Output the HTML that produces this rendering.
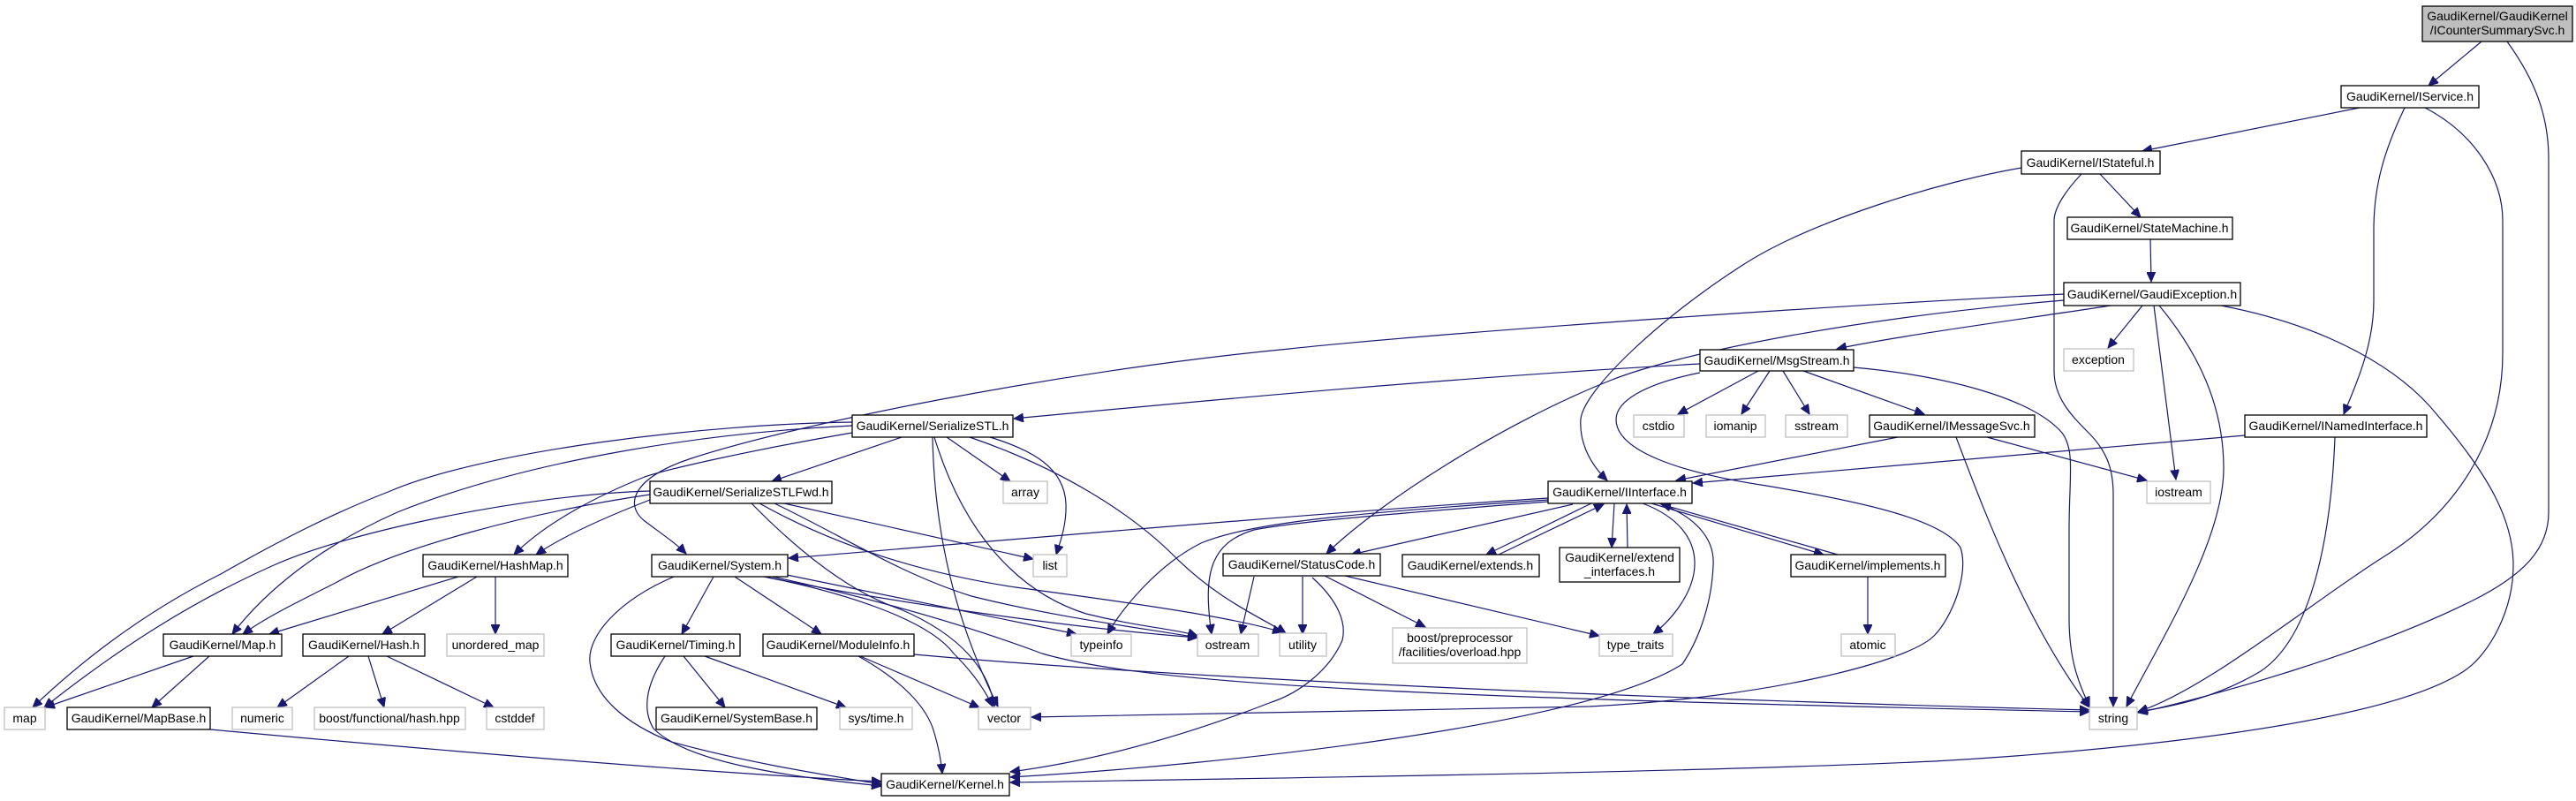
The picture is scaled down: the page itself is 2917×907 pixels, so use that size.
<!DOCTYPE html>
<html><head><meta charset="utf-8"><style>
html,body{margin:0;padding:0;background:#fff;}
svg{display:block;}
text{font-family:"Liberation Sans",sans-serif;font-size:14px;fill:#000;text-anchor:middle;}
.b{fill:#fff;stroke:#000;stroke-width:1.3;}
.g{fill:#fff;stroke:#bfbfbf;stroke-width:1.3;}
.r{fill:#bfbfbf;stroke:#000;stroke-width:1.3;}
path.e{fill:none;stroke:#191970;stroke-width:1.2;marker-end:url(#a);}
</style></head><body>
<svg width="2917" height="907" viewBox="0 0 2917 907" xmlns="http://www.w3.org/2000/svg">
<defs><marker id="a" markerUnits="userSpaceOnUse" markerWidth="12" markerHeight="10" refX="11" refY="5" orient="auto"><path d="M0,0 L11,5 L0,10 z" fill="#191970" stroke="#191970"/></marker></defs>

<path class="e" d="M2810,47 L2750,97"/>
<path class="e" d="M2839,47 C2870,90 2886,130 2886,180 L2886,580 C2886,620 2860,650 2800,680 C2680,740 2500,790 2421,807"/>
<path class="e" d="M2672,122 L2426,171"/>
<path class="e" d="M2723,122 C2700,170 2688,210 2688,260 L2688,340 C2688,390 2670,430 2654,469"/>
<path class="e" d="M2746,122 C2800,150 2834,200 2834,250 L2834,400 C2834,500 2780,580 2700,630 C2620,680 2500,780 2421,806"/>
<path class="e" d="M2378,197 L2424,246"/>
<path class="e" d="M2357,197 C2340,215 2326,235 2326,250 L2326,420 C2326,450 2345,470 2365,490 C2385,510 2393,530 2393,560 L2393,800"/>
<path class="e" d="M2289,190 C2200,205 2050,250 1972,301 C1880,360 1795,440 1790,474 C1788,500 1800,525 1820,544"/>
<path class="e" d="M2435,271 L2436,319"/>
<path class="e" d="M2426,346 L2387,394"/>
<path class="e" d="M2439,346 L2464,543"/>
<path class="e" d="M2445,346 C2490,400 2518,460 2518,530 C2518,610 2450,720 2408,800"/>
<path class="e" d="M2515,346 C2640,370 2720,420 2760,470 C2820,540 2846,590 2846,640 C2846,690 2820,740 2790,760 C2700,820 2400,850 2190,862 C1900,875 1500,880 1144,886"/>
<path class="e" d="M2390,346 C2300,360 2150,380 2080,395"/>
<path class="e" d="M2337,333 C2000,350 1600,380 1460,395 C1200,420 900,480 780,520 C720,540 705,570 730,590 C750,605 765,615 777,627"/>
<path class="e" d="M2337,340 C2100,360 1900,400 1823,431 C1700,480 1560,570 1502,627"/>
<path class="e" d="M1925,412 C1600,430 1300,460 1148,474"/>
<path class="e" d="M1991,420 L1900,469"/>
<path class="e" d="M2004,420 L1972,469"/>
<path class="e" d="M2019,420 L2049,469"/>
<path class="e" d="M2042,420 L2179,469"/>
<path class="e" d="M2099,416 C2200,425 2300,450 2335,490 C2350,510 2343,540 2343,600 L2343,700 C2343,750 2355,775 2366,800"/>
<path class="e" d="M1925,422 C1860,435 1830,455 1830,475 C1830,510 1900,535 2000,550 C2120,570 2200,590 2220,620 C2230,650 2210,700 2190,720 C2160,750 2000,790 1800,800 L1168,812"/>
<path class="e" d="M2149,495 L1898,544"/>
<path class="e" d="M2250,495 L2431,544"/>
<path class="e" d="M2215,495 C2240,560 2290,700 2366,801"/>
<path class="e" d="M2542,493 L1917,547"/>
<path class="e" d="M2644,495 C2640,600 2620,720 2560,760 C2510,790 2460,800 2421,806"/>
<path class="e" d="M1021,495 L874,545"/>
<path class="e" d="M1072,495 L1144,545"/>
<path class="e" d="M1121,495 C1170,510 1205,530 1207,570 C1208,595 1200,615 1196,628"/>
<path class="e" d="M1098,495 C1200,530 1280,580 1330,630 C1380,680 1430,700 1456,717"/>
<path class="e" d="M1058,495 C1090,600 1150,670 1230,695 C1290,710 1330,712 1356,720"/>
<path class="e" d="M1056,495 C1058,600 1080,700 1130,800"/>
<path class="e" d="M965,482 C800,490 600,520 450,580 C360,620 300,670 263,718"/>
<path class="e" d="M965,478 C800,480 550,510 442,556 C380,580 320,610 250,650 C150,700 80,760 37,801"/>
<path class="e" d="M965,490 C850,510 760,530 730,540 C680,560 620,590 582,628"/>
<path class="e" d="M736,566 C700,580 640,605 607,628"/>
<path class="e" d="M736,560 C600,580 450,620 380,660 C330,685 300,700 275,718"/>
<path class="e" d="M736,556 C600,560 400,600 310,640 C220,680 140,730 50,801"/>
<path class="e" d="M888,570 L1170,633"/>
<path class="e" d="M877,570 C960,610 1020,650 1100,675 C1200,700 1300,712 1356,722"/>
<path class="e" d="M860,570 C950,620 1050,650 1150,665 C1300,685 1400,700 1452,716"/>
<path class="e" d="M851,570 C900,620 960,670 1020,690 C1090,720 1120,760 1126,800"/>
<path class="e" d="M519,653 L305,718"/>
<path class="e" d="M540,653 L433,718"/>
<path class="e" d="M561,653 L561,718"/>
<path class="e" d="M219,743 L51,801"/>
<path class="e" d="M237,743 L172,801"/>
<path class="e" d="M395,743 L314,801"/>
<path class="e" d="M417,743 L435,801"/>
<path class="e" d="M438,743 L559,801"/>
<path class="e" d="M238,826 C500,850 800,875 998,885"/>
<path class="e" d="M808,653 L772,718"/>
<path class="e" d="M832,653 L930,718"/>
<path class="e" d="M891,651 L1219,718"/>
<path class="e" d="M865,653 C1000,680 1200,710 1356,722"/>
<path class="e" d="M870,654 C950,670 1050,700 1080,740 C1100,760 1115,780 1124,800"/>
<path class="e" d="M870,652 C1000,680 1100,710 1180,740 C1300,775 1600,790 2366,806"/>
<path class="e" d="M763,653 C700,680 665,720 668,750 C672,790 710,820 760,840 C850,865 950,880 998,888"/>
<path class="e" d="M774,743 L821,801"/>
<path class="e" d="M798,743 L958,801"/>
<path class="e" d="M753,743 C735,770 725,800 740,825 C780,865 900,880 998,890"/>
<path class="e" d="M974,743 L1109,801"/>
<path class="e" d="M972,743 C1020,770 1050,800 1058,830 C1064,850 1066,865 1067,876"/>
<path class="e" d="M1035,741 C1300,765 1800,790 2366,804"/>
<path class="e" d="M1753,564 C1500,580 1100,615 893,632"/>
<path class="e" d="M1753,566 C1550,580 1420,590 1360,615 C1310,640 1270,690 1254,718"/>
<path class="e" d="M1753,568 C1600,580 1470,590 1420,600 C1370,615 1362,650 1372,718"/>
<path class="e" d="M1781,571 L1530,628"/>
<path class="e" d="M1802,570 L1683,628"/>
<path class="e" d="M1697,628 L1816,571"/>
<path class="e" d="M1828,570 L1825,620"/>
<path class="e" d="M1843,620 L1842,571"/>
<path class="e" d="M1870,570 L2065,628"/>
<path class="e" d="M2081,628 L1881,571"/>
<path class="e" d="M1860,570 C1900,585 1920,610 1919,640 C1918,670 1895,700 1872,718"/>
<path class="e" d="M1879,570 C1920,585 1942,610 1940,640 C1938,690 1920,730 1905,752 C1800,820 1400,865 1144,880"/>
<path class="e" d="M2115,653 L2115,718"/>
<path class="e" d="M1420,653 L1405,718"/>
<path class="e" d="M1475,653 L1475,718"/>
<path class="e" d="M1500,652 L1614,710"/>
<path class="e" d="M1523,652 L1811,720"/>
<path class="e" d="M1486,654 C1515,680 1525,705 1520,725 C1505,760 1470,785 1440,795 C1350,830 1250,860 1144,874"/>

<rect class="r" x="2743" y="7" width="170" height="40"/><text x="2828" y="23">GaudiKernel/GaudiKernel</text><text x="2828" y="39">/ICounterSummarySvc.h</text>
<rect class="b" x="2651" y="97" width="156" height="25"/><text x="2729" y="114">GaudiKernel/IService.h</text>
<rect class="b" x="2289" y="171" width="157" height="26"/><text x="2367" y="189">GaudiKernel/IStateful.h</text>
<rect class="b" x="2341" y="246" width="187" height="25"/><text x="2434" y="263">GaudiKernel/StateMachine.h</text>
<rect class="b" x="2337" y="320" width="200" height="26"/><text x="2437" y="338">GaudiKernel/GaudiException.h</text>
<rect class="g" x="2337" y="395" width="79" height="25"/><text x="2376" y="412">exception</text>
<rect class="b" x="1925" y="396" width="174" height="24"/><text x="2012" y="413">GaudiKernel/MsgStream.h</text>
<rect class="g" x="1850" y="470" width="57" height="25"/><text x="1878" y="487">cstdio</text>
<rect class="g" x="1932" y="470" width="67" height="25"/><text x="1965" y="487">iomanip</text>
<rect class="g" x="2022" y="470" width="70" height="25"/><text x="2057" y="487">sstream</text>
<rect class="b" x="2117" y="470" width="187" height="25"/><text x="2210" y="487">GaudiKernel/IMessageSvc.h</text>
<rect class="b" x="2542" y="470" width="206" height="25"/><text x="2645" y="487">GaudiKernel/INamedInterface.h</text>
<rect class="b" x="965" y="470" width="182" height="25"/><text x="1056" y="487">GaudiKernel/SerializeSTL.h</text>
<rect class="b" x="736" y="545" width="206" height="25"/><text x="839" y="562">GaudiKernel/SerializeSTLFwd.h</text>
<rect class="g" x="1136" y="545" width="50" height="25"/><text x="1161" y="562">array</text>
<rect class="b" x="1753" y="545" width="163" height="25"/><text x="1834" y="562">GaudiKernel/IInterface.h</text>
<rect class="g" x="2431" y="545" width="72" height="25"/><text x="2467" y="562">iostream</text>
<rect class="b" x="479" y="628" width="164" height="25"/><text x="561" y="645">GaudiKernel/HashMap.h</text>
<rect class="b" x="738" y="628" width="154" height="25"/><text x="815" y="645">GaudiKernel/System.h</text>
<rect class="g" x="1170" y="628" width="38" height="25"/><text x="1189" y="645">list</text>
<rect class="b" x="1385" y="627" width="178" height="25"/><text x="1474" y="644">GaudiKernel/StatusCode.h</text>
<rect class="b" x="1588" y="628" width="155" height="25"/><text x="1665" y="645">GaudiKernel/extends.h</text>
<rect class="b" x="1766" y="620" width="136" height="39"/><text x="1834" y="636">GaudiKernel/extend</text><text x="1834" y="652">_interfaces.h</text>
<rect class="b" x="2028" y="628" width="175" height="25"/><text x="2115" y="645">GaudiKernel/implements.h</text>
<rect class="b" x="185" y="718" width="134" height="25"/><text x="252" y="735">GaudiKernel/Map.h</text>
<rect class="b" x="343" y="718" width="138" height="25"/><text x="412" y="735">GaudiKernel/Hash.h</text>
<rect class="g" x="506" y="718" width="110" height="25"/><text x="561" y="735">unordered_map</text>
<rect class="b" x="692" y="718" width="146" height="25"/><text x="765" y="735">GaudiKernel/Timing.h</text>
<rect class="b" x="864" y="718" width="171" height="25"/><text x="949" y="735">GaudiKernel/ModuleInfo.h</text>
<rect class="g" x="1213" y="718" width="68" height="25"/><text x="1247" y="735">typeinfo</text>
<rect class="g" x="1356" y="718" width="69" height="25"/><text x="1390" y="735">ostream</text>
<rect class="g" x="1449" y="717" width="53" height="26"/><text x="1475" y="735">utility</text>
<rect class="g" x="1577" y="711" width="152" height="40"/><text x="1653" y="727">boost/preprocessor</text><text x="1653" y="743">/facilities/overload.hpp</text>
<rect class="g" x="1811" y="718" width="83" height="25"/><text x="1852" y="735">type_traits</text>
<rect class="g" x="2085" y="718" width="61" height="25"/><text x="2115" y="735">atomic</text>
<rect class="g" x="5" y="801" width="46" height="25"/><text x="28" y="818">map</text>
<rect class="b" x="76" y="801" width="162" height="25"/><text x="157" y="818">GaudiKernel/MapBase.h</text>
<rect class="g" x="263" y="801" width="68" height="25"/><text x="297" y="818">numeric</text>
<rect class="g" x="356" y="801" width="171" height="25"/><text x="441" y="818">boost/functional/hash.hpp</text>
<rect class="g" x="551" y="801" width="65" height="25"/><text x="583" y="818">cstddef</text>
<rect class="b" x="743" y="801" width="182" height="25"/><text x="834" y="818">GaudiKernel/SystemBase.h</text>
<rect class="g" x="951" y="801" width="82" height="25"/><text x="992" y="818">sys/time.h</text>
<rect class="g" x="1108" y="801" width="59" height="25"/><text x="1137" y="818">vector</text>
<rect class="g" x="2366" y="801" width="54" height="25"/><text x="2393" y="818">string</text>
<rect class="b" x="998" y="876" width="145" height="25"/><text x="1070" y="893">GaudiKernel/Kernel.h</text>
</svg>
</body></html>
